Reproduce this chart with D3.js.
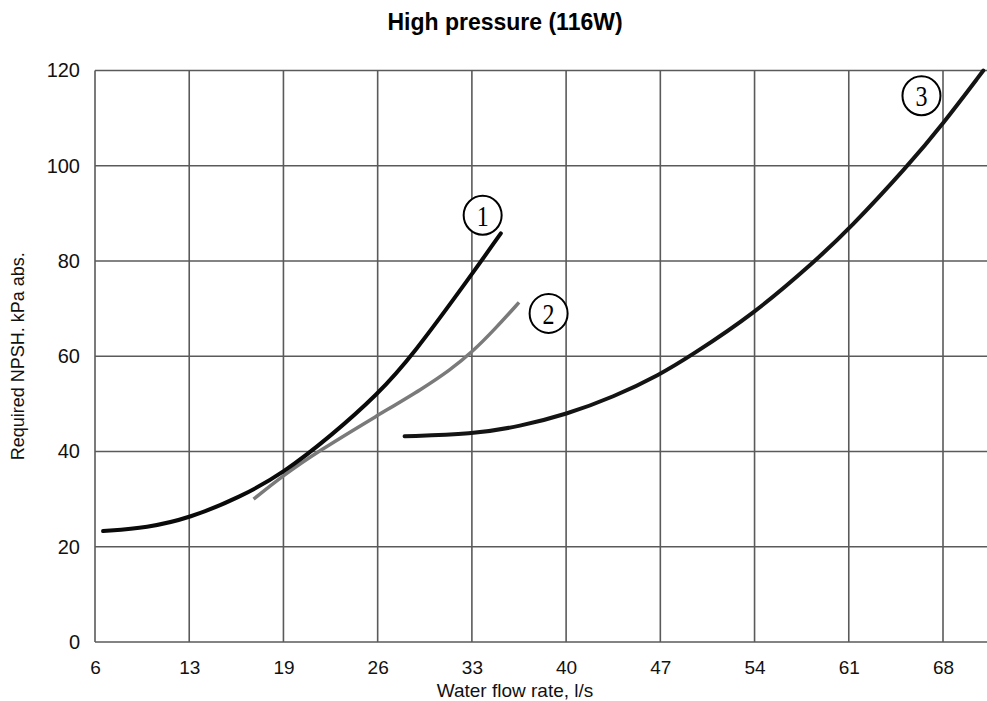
<!DOCTYPE html>
<html>
<head>
<meta charset="utf-8">
<script src="https://cdn.jsdelivr.net/npm/d3@7"></script>
<style>
  html, body { margin: 0; padding: 0; background: #fff; }
  svg { display: block; }
</style>
</head>
<body>
<svg id="chart" width="987" height="701"></svg>
<script>
// ---- Data ----
const xTickLabels = [6, 13, 19, 26, 33, 40, 47, 54, 61, 68];
const yTickLabels = [0, 20, 40, 60, 80, 100, 120];

// Curve 1 (black)
const curve1X = [6.6, 9.9, 13, 16.25, 19, 22.5, 26, 28.55, 33, 35.15];
const curve1Y = [23.3, 24.0, 26.0, 30.4, 35.5, 43.2, 52.0, 60, 77.2, 85.8];

// Curve 2 (gray)
const curve2X = [17.1, 19, 21.5, 26, 29.4, 31.37, 33, 34.78, 36.5];
const curve2Y = [30.0, 35.0, 39.9, 47.6, 53.3, 57.1, 60.8, 65.9, 71.3];

// Curve 3 (black)
const curve3X = [28.0, 33, 36.6, 40, 43.5, 47, 49.2, 54, 58.5, 61, 65.4, 68, 71.0];
const curve3Y = [43.2, 43.6, 45.3, 47.8, 51.4, 56.2, 60, 69.0, 80, 86.6, 100, 108.8, 120];

const labelNames = ["1", "2", "3"];
const labelX = [33.8, 38.7, 66.4];
const labelY = [89.6, 69.0, 114.7];

// ---- Layout ----
const svg = d3.select("#chart");
const mLeft = 95, mRight = 987, mTop = 70.5, mBottom = 642;
const xMaxVal = 71.27;
const font = "Liberation Sans, Arial, sans-serif";

const xStep = (943 - mLeft) / (xTickLabels.length - 1);
const x = d3.scaleLinear()
  .domain([...xTickLabels, xMaxVal])
  .range([...xTickLabels.map((d, i) => mLeft + i * xStep), mRight]);
const y = d3.scaleLinear().domain([0, 120]).range([mBottom, mTop]);

const gridColor = "#5a5a5a";

// Grid verticals
svg.append("g").selectAll("line").data(xTickLabels).join("line")
  .attr("x1", d => x(d)).attr("x2", d => x(d))
  .attr("y1", y(0)).attr("y2", y(120))
  .attr("stroke", gridColor).attr("stroke-width", 1.6);

// Grid horizontals
svg.append("g").selectAll("line").data(yTickLabels).join("line")
  .attr("x1", x(6)).attr("x2", mRight)
  .attr("y1", d => y(d)).attr("y2", d => y(d))
  .attr("stroke", gridColor).attr("stroke-width", 1.6);

// Axes labels (tick text via d3 axes)
const xAxis = d3.axisBottom(x).tickValues(xTickLabels).tickSize(0).tickPadding(19).tickFormat(d3.format("d"));
const gx = svg.append("g").attr("transform", `translate(0,${mBottom})`).call(xAxis);
gx.select(".domain").remove();
gx.selectAll("text").attr("font-family", font).attr("font-size", 19).attr("fill", "#111");

const yAxis = d3.axisLeft(y).tickValues(yTickLabels).tickSize(0).tickPadding(15).tickFormat(d3.format("d"));
const gy = svg.append("g").attr("transform", `translate(${mLeft},0)`).call(yAxis);
gy.select(".domain").remove();
gy.selectAll("text").attr("font-family", font).attr("font-size", 20).attr("fill", "#111");

// Curves
const line = d3.line().x(d => x(d[0])).y(d => y(d[1])).curve(d3.curveBasis);
const c1 = curve1X.map((v, i) => [v, curve1Y[i]]);
const c2 = curve2X.map((v, i) => [v, curve2Y[i]]);
const c3 = curve3X.map((v, i) => [v, curve3Y[i]]);

svg.append("path").datum(c2).attr("d", line).attr("fill", "none")
  .attr("stroke", "#7a7a7a").attr("stroke-width", 3.5).attr("stroke-linecap", "butt");
svg.append("path").datum(c1).attr("d", line).attr("fill", "none")
  .attr("stroke", "#0a0a0a").attr("stroke-width", 4).attr("stroke-linecap", "round");
svg.append("path").datum(c3).attr("d", line).attr("fill", "none")
  .attr("stroke", "#141414").attr("stroke-width", 4).attr("stroke-linecap", "round");

// Circled labels
const lab = svg.append("g").selectAll("g").data(labelNames).join("g")
  .attr("transform", (d, i) => `translate(${x(labelX[i])},${y(labelY[i])})`);
lab.append("ellipse").attr("rx", 19).attr("ry", 19.5).attr("fill", "#fff")
  .attr("stroke", "#000").attr("stroke-width", 2);
lab.append("text").text(d => d)
  .attr("text-anchor", "middle").attr("dy", "0.35em")
  .attr("font-family", "Liberation Serif, Times New Roman, serif")
  .attr("font-size", 30)
  .attr("transform", "scale(0.8,1)")
  .attr("fill", "#000");

// Title
svg.append("text").text("High pressure (116W)")
  .attr("x", 505).attr("y", 30)
  .attr("text-anchor", "middle")
  .attr("font-family", font)
  .attr("font-weight", "bold").attr("font-size", 23).attr("fill", "#000");

// X axis title
svg.append("text").text("Water flow rate, l/s")
  .attr("x", 515).attr("y", 697)
  .attr("text-anchor", "middle")
  .attr("font-family", font)
  .attr("font-size", 19).attr("fill", "#111");

// Y axis title
svg.append("text").text("Required NPSH. kPa abs.")
  .attr("transform", `translate(24,${(mTop + mBottom) / 2}) rotate(-90)`)
  .attr("text-anchor", "middle")
  .attr("font-family", font)
  .attr("font-size", 18).attr("fill", "#111");
</script>
</body>
</html>
